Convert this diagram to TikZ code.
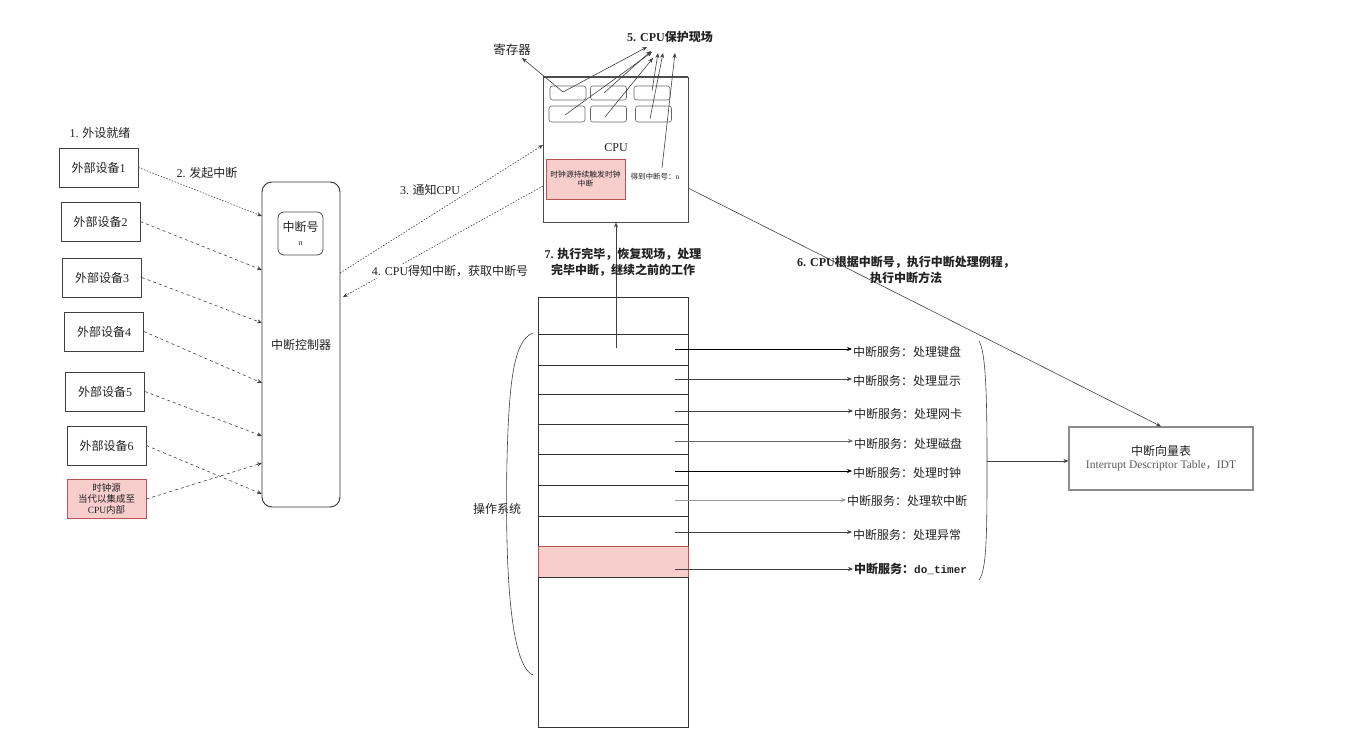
\documentclass[tikz,border=0pt]{standalone}
\usepackage{fontspec}
\setmainfont{Noto Sans CJK SC}
\newfontfamily\lat{Liberation Serif}
\setmonofont{Liberation Mono}
\usetikzlibrary{arrows.meta}
\definecolor{redfill}{HTML}{F8CECC}
\definecolor{redline}{HTML}{B85450}
\definecolor{ink}{HTML}{222222}
\begin{document}
\begin{tikzpicture}[x=1pt,y=-1pt,
  font=\fontsize{12}{15}\selectfont, text=ink,
  dev/.style={draw=black!75, line width=0.8pt, minimum width=79pt, minimum height=39pt, inner sep=0pt},
  darr/.style={draw=black!75, dash pattern=on 3pt off 3pt, line width=0.6pt, -{Stealth[length=5pt,width=4pt]}},
  arr/.style={draw=black!75, line width=0.6pt, -{Stealth[length=5pt,width=4pt]}},
  reg/.style={draw=black!60, rounded corners=2.5pt, minimum width=36pt, inner sep=0pt, line width=0.6pt},
  row/.style={draw=black!80, minimum width=150pt, inner sep=0pt, line width=0.7pt},
  svc/.style={anchor=west, inner sep=1pt},
  lbl/.style={inner sep=1pt, align=center},
  bl/.style={inner sep=1pt, align=center, font=\bfseries\fontsize{12}{16}\selectfont}
]
\useasboundingbox (0,0) rectangle (1372,746);

% ---------------- devices ----------------
\node[lbl] (s1lbl) at (100,133) {{\lat 1.} 外设就绪};
\node[dev] (d1) at (98.5,167.5) {外部设备{\lat 1}};
\node[dev] (d2) at (100.5,221.5) {外部设备{\lat 2}};
\node[dev] (d3) at (102,277.5) {外部设备{\lat 3}};
\node[dev] (d4) at (104,331.5) {外部设备{\lat 4}};
\node[dev] (d5) at (105,391.5) {外部设备{\lat 5}};
\node[dev] (d6) at (106.5,445.5) {外部设备{\lat 6}};
\node[dev, draw=redline, fill=redfill, align=center, font=\fontsize{9.5}{11}\selectfont] (clk) at (106.5,499) {时钟源\\当代以集成至\\{\lat CPU}内部};

% ---------------- controller ----------------
\node[draw=black!80, line width=0.9pt, rounded corners=10pt, minimum width=78pt, minimum height=325pt] (ctrl) at (301,344.5) {中断控制器};
\node[draw=black!70, line width=0.8pt, rounded corners=6pt, minimum width=45pt, minimum height=43pt, align=center, font=\fontsize{12}{14}\selectfont] (num) at (300.5,233.5) {中断号\\{\lat\footnotesize n}};

\coordinate (c1) at (262,216);
\coordinate (c2) at (262,270);
\coordinate (c3) at (262,323);
\coordinate (c4) at (262,383);
\coordinate (c5) at (262,436);
\coordinate (c6) at (262,494);
\coordinate (c7) at (262,463);
\draw[darr, dash pattern=on 1.5pt off 1.5pt] (d1.east) -- (c1);
\draw[darr] (d2.east) -- (c2);
\draw[darr] (d3.east) -- (c3);
\draw[darr] (d4.east) -- (c4);
\draw[darr] (d5.east) -- (c5);
\draw[darr] (d6.east) -- (c6);
\draw[darr] (clk.east) -- (c7);
\node[lbl] (s2lbl) at (207,173) {{\lat 2.} 发起中断};

% ---------------- CPU ----------------
\node[draw=black!70, line width=0.9pt, minimum width=145pt, minimum height=145pt] (cpu) at (615.5,149.5) {};
\draw[draw=black!70, line width=1.6pt] (cpu.north west) -- (cpu.north east);
\node[lbl] (cpulbl) at (616,148) {\lat CPU};
\node[reg, minimum height=14pt] (r1) at (568,93) {};
\node[reg, minimum height=14pt] (r2) at (608.5,93) {};
\node[reg, minimum height=14pt] (r3) at (652,93) {};
\node[reg, minimum height=16pt] (r4) at (567,114) {};
\node[reg, minimum height=16pt] (r5) at (608.5,114) {};
\node[reg, minimum height=16pt] (r6) at (653.5,114) {};
\node[draw=redline, fill=redfill, line width=0.9pt, minimum width=79pt, minimum height=40pt, inner sep=1pt, align=center, font=\fontsize{7.8}{9.5}\selectfont] (tick) at (585.5,179) {时钟源持续触发时钟\\中断};
\node[lbl, font=\fontsize{7.5}{9}\selectfont] (gotn) at (655,177) {得到中断号：{\lat n}};

\node[lbl, font=\fontsize{12.5}{14}\selectfont] (regl) at (512,50) {寄存器};
\node[bl] (s5lbl) at (670,37) {{\lat\bfseries 5. CPU}保护现场};

\coordinate (p1) at (563,92);
\coordinate (p2) at (604,93);
\coordinate (p3) at (652,91);
\coordinate (p4) at (565,115);
\coordinate (p5) at (605,117);
\coordinate (p6) at (650,119);
\coordinate (p7) at (662,168);
\coordinate (t1) at (647,47);
\coordinate (t2) at (651,51);
\coordinate (t3) at (658,53);
\coordinate (t4) at (652,52);
\coordinate (t5) at (653,58);
\coordinate (t6) at (663,53);
\coordinate (t7) at (675,53);
\coordinate (tr) at (522,58);
\draw[arr] (p1) -- (tr);
\draw[arr] (p1) -- (t1);
\draw[arr] (p2) -- (t2);
\draw[arr] (p3) -- (t3);
\draw[arr] (p4) -- (t4);
\draw[arr] (p5) -- (t5);
\draw[arr] (p6) -- (t6);
\draw[arr] (p7) -- (t7);

% CPU <-> controller
\coordinate (a3s) at (340,273);
\coordinate (a3e) at (543,145);
\coordinate (a4s) at (543,186);
\coordinate (a4e) at (343,297);
\draw[darr, dash pattern=on 1.5pt off 1.5pt] (a3s) -- (a3e);
\draw[darr, dash pattern=on 1.5pt off 1.5pt] (a4s) -- (a4e);
\node[lbl, fill=white] (s3lbl) at (430,190) {{\lat 3.} 通知{\lat CPU}};
\node[lbl, fill=white] (s4lbl) at (450,271) {{\lat 4. CPU}得知中断，获取中断号};

% ---------------- OS stack ----------------
\node[row, minimum height=37pt] (row0) at (613,315.5) {};
\node[row, minimum height=31pt] (row1) at (613,349.5) {};
\node[row, minimum height=29pt] (row2) at (613,379.5) {};
\node[row, minimum height=30pt] (row3) at (613,409) {};
\node[row, minimum height=30pt] (row4) at (613,439) {};
\node[row, minimum height=31pt] (row5) at (613,469.5) {};
\node[row, minimum height=31pt] (row6) at (613,500.5) {};
\node[row, minimum height=30pt] (row7) at (613,531) {};
\node[row, minimum height=31pt, fill=redfill, draw=redline] (row8) at (613,561.5) {};
\node[row, minimum height=150pt] (row9) at (613,652) {};

\coordinate (up) at (616,348);
\draw[arr] (up) -- (cpu.south -| up);
\node[bl] (s7lbl) at (623,262) {{\lat\bfseries 7.} 执行完毕，恢复现场，处理\\完毕中断，继续之前的工作};

% services
\node[svc] (l1) at (852,352) {中断服务：处理键盘};
\node[svc] (l2) at (852,381) {中断服务：处理显示};
\node[svc] (l3) at (853,414) {中断服务：处理网卡};
\node[svc] (l4) at (853,444) {中断服务：处理磁盘};
\node[svc] (l5) at (852,473) {中断服务：处理时钟};
\node[svc] (l6) at (846,501) {中断服务：处理软中断};
\node[svc] (l7) at (852,535) {中断服务：处理异常};
\node[svc, font=\bfseries\fontsize{12}{15}\selectfont] (l8) at (853,569) {中断服务：{\ttfamily\bfseries\fontsize{11}{13}\selectfont do\_timer}};

\coordinate (s1) at (675,349);
\coordinate (s2) at (675,379);
\coordinate (s3) at (675,411);
\coordinate (s4) at (675,441);
\coordinate (s5) at (675,471);
\coordinate (s6) at (675,500);
\coordinate (s7) at (675,532);
\coordinate (s8) at (675,569);
\draw[arr, draw=black] (s1) -- (s1 -| l1.west);
\draw[arr] (s2) -- (s2 -| l2.west);
\draw[arr] (s3) -- (s3 -| l3.west);
\draw[arr, draw=black!60] (s4) -- (s4 -| l4.west);
\draw[arr, draw=black] (s5) -- (s5 -| l5.west);
\draw[arr, draw=black!40] (s6) -- (s6 -| l6.west);
\draw[arr, line width=0.9pt] (s7) -- (s7 -| l7.west);
\draw[arr] (s8) -- (s8 -| l8.west);

% braces
\draw[draw=black!75, line width=0.6pt] (533,333) .. controls (514,340) and (509,380) .. (507,460) .. controls (505,560) and (509,665) .. (533,675);
\node[lbl] (oslbl) at (497,509) {操作系统};
\draw[draw=black!75, line width=0.6pt] (979,341) .. controls (986,352) and (987,400) .. (987,461) .. controls (987,530) and (987,570) .. (979,580);

% IDT
\node[draw=black!45, line width=1.2pt, minimum width=184pt, minimum height=63pt, align=center, inner sep=1pt] (idt) at (1161,458.5) {中断向量表\\[-2pt]{\color{black!65}\lat\fontsize{11.5}{13}\selectfont Interrupt Descriptor Table}{\color{black!65}\fontsize{11}{13}\selectfont ，}{\color{black!65}\lat\fontsize{11.5}{13}\selectfont IDT}};
\coordinate (bm) at (987,461);
\draw[arr] (bm) -- (idt.west |- bm);

\coordinate (c6s) at (688,188);
\draw[arr] (c6s) -- (idt.north);
\node[bl] (s6lbl) at (906,270) {{\lat\bfseries 6. CPU}根据中断号，执行中断处理例程，\\执行中断方法};
\end{tikzpicture}
\end{document}
